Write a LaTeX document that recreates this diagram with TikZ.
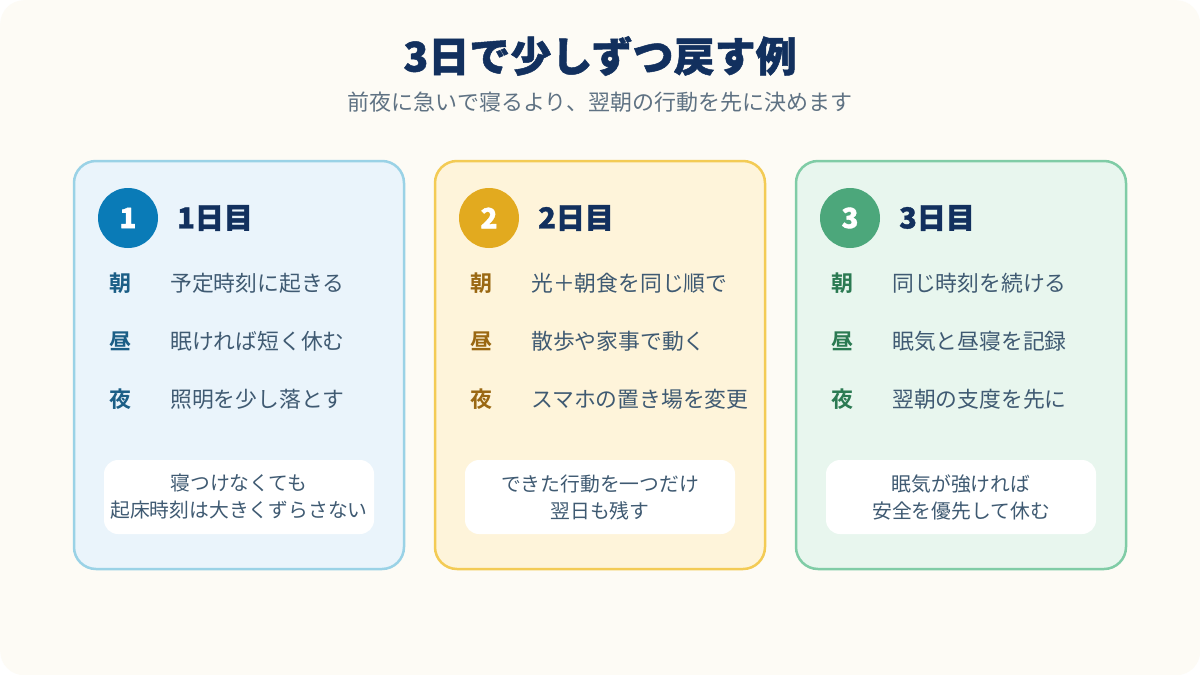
\documentclass[tikz,border=0pt]{standalone}
\usepackage{fontspec}
\setmainfont{Noto Sans CJK JP}[BoldFont={Noto Sans CJK JP Bold}]
\newfontfamily\blackfont{Noto Sans CJK JP Black}[FakeBold=1.2]
\definecolor{bg}{HTML}{FDFBF5}
\definecolor{navy}{HTML}{12305E}
\definecolor{txt}{HTML}{3F5A72}
\definecolor{subc}{HTML}{5F7283}
\definecolor{cafill}{HTML}{EAF4FB}\definecolor{caborder}{HTML}{9AD2E6}\definecolor{cacirc}{HTML}{0A7BB7}\definecolor{calab}{HTML}{1B5E86}
\definecolor{cbfill}{HTML}{FEF4DA}\definecolor{cbborder}{HTML}{F3CB55}\definecolor{cbcirc}{HTML}{E2AA1F}\definecolor{cblab}{HTML}{9A6812}
\definecolor{ccfill}{HTML}{E8F6EE}\definecolor{ccborder}{HTML}{80CCA6}\definecolor{cccirc}{HTML}{4CA77B}\definecolor{cclab}{HTML}{2B7A52}
\tikzset{
 card/.style={rounded corners=22pt, line width=2.5pt, minimum width=330pt, minimum height=408pt, inner sep=0pt},
 numc/.style={circle, minimum size=60pt, inner sep=0pt, text=white, font=\blackfont\fontsize{28}{32}\selectfont},
 head/.style={anchor=west, inner sep=0pt, text=navy, font=\blackfont\fontsize{29}{34}\selectfont},
 lab/.style={inner sep=0pt, font=\bfseries\fontsize{22}{26}\selectfont},
 rowt/.style={anchor=west, inner sep=0pt, text=txt, font=\fontsize{21.8}{26}\selectfont},
 note/.style={fill=white, rounded corners=14pt, minimum width=270pt, minimum height=74pt, inner sep=0pt, align=center, text=txt, font=\fontsize{19.8}{27}\selectfont},
}
\begin{document}
\begin{tikzpicture}[x=1pt,y=-1pt]
\useasboundingbox (0,0) rectangle (1200,675);
\fill[white] (0,0) rectangle (1200,675);
\node[fill=bg, rounded corners=24pt, minimum width=1200pt, minimum height=675pt, inner sep=0pt, anchor=north west] (bgr) at (0,0) {};
\node[text=navy, font=\blackfont\fontsize{41}{48}\selectfont] (title) at (600,56) {3日で少しずつ戻す例};
\node[text=subc, font=\fontsize{22}{26}\selectfont] (sub) at (600,102) {前夜に急いで寝るより、翌朝の行動を先に決めます};
% card 1
\node[card, fill=cafill, draw=caborder] (card1) at (239,365) {};
\node[numc, fill=cacirc] (n1) at (128,218) {1};
\node[head] (h1) at (177,218) {1日目};
\node[lab, text=calab] (la1) at (120,283) {朝};
\node[rowt] (ra1) at (170,283) {予定時刻に起きる};
\node[lab, text=calab] (lb1) at (120,341) {昼};
\node[rowt] (rb1) at (170,341) {眠ければ短く休む};
\node[lab, text=calab] (lc1) at (120,399) {夜};
\node[rowt] (rc1) at (170,399) {照明を少し落とす};
\node[note] (note1) at (239,497) {寝つけなくても\\起床時刻は大きくずらさない};
% card 2
\node[card, fill=cbfill, draw=cbborder] (card2) at (600,365) {};
\node[numc, fill=cbcirc] (n2) at (489,218) {2};
\node[head] (h2) at (538,218) {2日目};
\node[lab, text=cblab] (la2) at (481,283) {朝};
\node[rowt] (ra2) at (531,283) {光＋朝食を同じ順で};
\node[lab, text=cblab] (lb2) at (481,341) {昼};
\node[rowt] (rb2) at (531,341) {散歩や家事で動く};
\node[lab, text=cblab] (lc2) at (481,399) {夜};
\node[rowt] (rc2) at (531,399) {スマホの置き場を変更};
\node[note] (note2) at (600,497) {できた行動を一つだけ\\翌日も残す};
% card 3
\node[card, fill=ccfill, draw=ccborder] (card3) at (961,365) {};
\node[numc, fill=cccirc] (n3) at (850,218) {3};
\node[head] (h3) at (899,218) {3日目};
\node[lab, text=cclab] (la3) at (842,283) {朝};
\node[rowt] (ra3) at (892,283) {同じ時刻を続ける};
\node[lab, text=cclab] (lb3) at (842,341) {昼};
\node[rowt] (rb3) at (892,341) {眠気と昼寝を記録};
\node[lab, text=cclab] (lc3) at (842,399) {夜};
\node[rowt] (rc3) at (892,399) {翌朝の支度を先に};
\node[note] (note3) at (961,497) {眠気が強ければ\\安全を優先して休む};
\end{tikzpicture}
\end{document}
